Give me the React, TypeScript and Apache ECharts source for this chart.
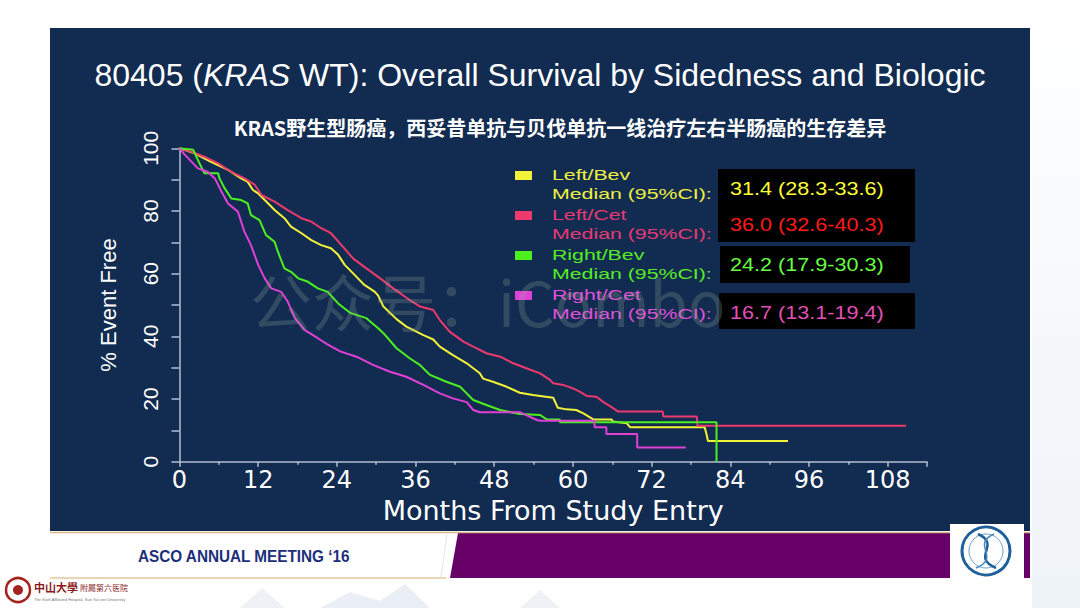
import React, { useEffect, useRef } from "react";
import * as echarts from "echarts";

// ---- Data (months, % event free) ----
const leftBev: [number, number][] = [
  [0, 100], [2.3, 98.4], [4.8, 95.7], [7.4, 93.1], [9.4, 90.4], [10.4, 89.3], [11.2, 86.7], [12.0, 85.6],
  [13.0, 83.5], [14.5, 80.3], [16.0, 77.7], [17.0, 75.0], [18.6, 72.9], [20.1, 70.7], [21.6, 69.1],
  [23.1, 68.1], [24.2, 66.0], [25.2, 62.8], [26.7, 59.6], [28.2, 56.4], [29.8, 54.2], [30.3, 53.0],
  [31.1, 49.5], [33.1, 45.5], [34.6, 43.1], [37.2, 40.4], [38.7, 39.0], [39.7, 36.7], [41.7, 34.0],
  [43.8, 31.4], [45.8, 28.2], [46.3, 26.5], [47.8, 25.5], [49.9, 23.9], [51.9, 22.0], [53.9, 21.3],
  [57.0, 20.4], [57.7, 17.2], [59.0, 16.7], [60.5, 16.5], [61.6, 15.4], [63.1, 13.5], [65.9, 13.5],
  [66.1, 12.8], [68.2, 12.3], [68.7, 11.0], [80.1, 11.0], [80.4, 8.5], [80.6, 6.6], [92.8, 6.6],
];
const leftCet: [number, number][] = [
  [0, 100], [1.8, 98.9], [3.8, 97.3], [5.9, 95.2], [7.9, 92.5], [9.9, 90.4], [11.5, 88.3], [12.5, 85.1],
  [14.5, 83.0], [16.5, 80.3], [18.6, 77.7], [20.1, 76.6], [21.6, 74.5], [23.1, 72.9], [24.7, 69.1],
  [26.5, 64.8], [28.5, 61.7], [30.6, 58.5], [32.6, 55.3], [35.1, 51.6], [36.7, 49.5], [38.7, 48.4],
  [39.7, 45.2], [41.2, 41.5], [43.3, 38.3], [44.8, 36.7], [46.8, 34.6], [48.9, 33.5], [50.9, 31.4],
  [52.9, 29.8], [55.0, 28.2], [56.5, 26.1], [57.0, 25.0], [58.5, 24.5], [60.0, 23.4], [61.1, 22.3],
  [62.1, 21.0], [63.6, 20.7], [64.6, 19.1], [65.6, 17.8], [66.9, 16.0], [73.7, 16.0], [73.8, 14.4],
  [78.9, 14.4], [79.0, 11.5], [110.8, 11.5],
];
const rightBev: [number, number][] = [
  [0, 100], [2.1, 99.5], [2.8, 96.3], [3.8, 92.0], [5.9, 92.0], [6.1, 90.4], [6.9, 87.2], [7.9, 84.0],
  [9.4, 83.5], [10.4, 82.4], [10.9, 78.7], [12.2, 77.1], [13.2, 72.3], [14.5, 70.2], [15.0, 67.0],
  [16.0, 61.7], [17.0, 60.6], [18.1, 58.5], [19.6, 57.4], [21.1, 55.3], [22.6, 54.2], [24.2, 50.5],
  [26.0, 47.5], [28.5, 45.8], [30.3, 42.6], [31.1, 41.0], [33.1, 36.2], [35.1, 33.0], [36.7, 30.8],
  [38.2, 27.7], [40.7, 25.5], [42.8, 23.9], [43.8, 21.8], [44.8, 19.7], [46.8, 18.1], [48.9, 16.5],
  [51.9, 15.2], [55.0, 14.9], [56.0, 13.5], [58.0, 13.5], [58.0, 12.6], [81.9, 12.6], [81.9, 0],
];
const rightCet: [number, number][] = [
  [0, 100], [0.8, 98.0], [2.8, 93.6], [4.3, 92.5], [5.4, 90.4], [6.4, 86.2], [7.4, 82.4], [8.9, 79.8],
  [9.9, 73.4], [10.9, 69.1], [12.0, 62.8], [13.0, 58.5], [14.0, 55.3], [15.5, 54.2], [16.5, 51.1],
  [17.6, 45.8], [19.1, 42.0], [21.1, 39.4], [22.5, 37.5], [24.5, 35.2], [27.0, 33.5], [29.5, 30.9],
  [32.1, 28.7], [34.6, 27.1], [37.2, 24.5], [39.7, 21.8], [41.7, 20.2], [43.8, 19.0], [44.8, 16.5],
  [45.8, 15.8], [51.9, 15.8], [54.5, 13.3], [55.0, 13.1], [63.3, 13.1], [63.3, 11.0], [65.1, 11.0],
  [65.1, 8.8], [69.8, 8.8], [69.8, 4.5], [77.2, 4.5],
];

const seriesNames = ["Left/Bev", "Left/Cet", "Right/Bev", "Right/Cet"];
const medianLabel = "Median (95%CI):";
const medianValues = ["31.4 (28.3-33.6)", "36.0 (32.6-40.3)", "24.2 (17.9-30.3)", "16.7 (13.1-19.4)"];

const subtitleText = "KRAS野生型肠癌，西妥昔单抗与贝伐单抗一线治疗左右半肠癌的生存差异";
const xAxisName = "Months From Study Entry";
const yAxisName = "% Event Free";
const footerText = "ASCO ANNUAL MEETING \u201816";
const watermarkText = "公众号：iCombo";

// ---- Styles ----
const lineColors = ["#f2f236", "#ec3a6e", "#4cf01e", "#e040d6"];
const legendTextColors = ["#f0f040", "#e83a72", "#55ee22", "#e050d8"];
const valueColors = ["#ffff33", "#ff1a1a", "#66ff44", "#e24fb5"];
const NAVY = "#122b51";
const AXIS = "#b4bfd0";

export default function App() {
  const ref = useRef<HTMLDivElement>(null);

  useEffect(() => {
    if (!ref.current) return;
    const chart = echarts.init(ref.current, undefined, { renderer: "svg" });
    const datasets = [leftBev, leftCet, rightBev, rightCet];

    const graphic: any[] = [
      // slide panel
      { type: "rect", z: -10, shape: { x: 50, y: 28, width: 980, height: 503 }, style: { fill: NAVY } },
      // faint scenery
      { type: "polygon", z: -12, shape: { points: [[240, 608], [262, 588], [285, 608]] }, style: { fill: "#eef2f7" } },
      { type: "polygon", z: -12, shape: { points: [[320, 608], [350, 592], [380, 601], [405, 584], [430, 608]] }, style: { fill: "#eaeff5" } },
      { type: "polygon", z: -12, shape: { points: [[520, 608], [540, 590], [560, 608]] }, style: { fill: "#eef2f7" } },
      { type: "rect", z: -12, shape: { x: 1032, y: 0, width: 48, height: 608 }, style: { fill: new echarts.graphic.LinearGradient(0, 0, 0, 1, [{ offset: 0, color: "#ffffff" }, { offset: 1, color: "#eef3f8" }]) } },
      // title
      {
        type: "text", x: 540, y: 75,
        style: {
          text: "{n|80405 (}{i|KRAS}{n| WT): Overall Survival by Sidedness and Biologic}",
          align: "center", verticalAlign: "middle",
          rich: {
            n: { fontFamily: "Liberation Sans", fontSize: 32, fill: "#ffffff" },
            i: { fontFamily: "Liberation Sans", fontSize: 32, fontStyle: "italic", fill: "#ffffff" },
          },
        },
      },
      {
        type: "text", x: 560, y: 127,
        style: { text: subtitleText, align: "center", verticalAlign: "middle", fontFamily: "Noto Sans CJK SC", fontWeight: "bold", fontSize: 20, fill: "#ffffff" },
      },
      // watermark
      {
        type: "text", x: 250, y: 300, z: 100,
        style: { text: watermarkText, align: "left", verticalAlign: "middle", fontFamily: "Noto Sans CJK SC", fontSize: 62, fill: "rgba(150,170,150,0.25)" },
      },
      // footer
      { type: "polygon", shape: { points: [[458, 533], [1030, 533], [1030, 578], [450, 578]] }, style: { fill: "#660066" } },
      { type: "line", shape: { x1: 50, y1: 532.5, x2: 1030, y2: 532.5 }, style: { stroke: "#d9b98a", lineWidth: 1.5 } },
      { type: "line", shape: { x1: 50, y1: 578, x2: 446, y2: 578 }, style: { stroke: "#e3c99e", lineWidth: 1.5 } },
      { type: "line", shape: { x1: 447, y1: 534, x2: 441, y2: 577 }, style: { stroke: "#e4e4e4", lineWidth: 1 } },
      {
        type: "text", x: 138, y: 556, scaleX: 0.9,
        style: { text: footerText, align: "left", verticalAlign: "middle", fontFamily: "Liberation Sans", fontWeight: "bold", fontSize: 17, fill: "#1c2f7a" },
      },
      { type: "rect", shape: { x: 950, y: 524, width: 74, height: 55 }, style: { fill: "#ffffff" } },
      { type: "circle", shape: { cx: 986, cy: 551, r: 24 }, style: { fill: "#ffffff", stroke: "#1f5f9a", lineWidth: 3 } },
      { type: "circle", shape: { cx: 986, cy: 551, r: 17 }, style: { fill: "#ffffff", stroke: "#6f9cc6", lineWidth: 1 } },
      { type: "bezierCurve", shape: { x1: 978, y1: 534, x2: 996, y2: 568, cpx1: 1002, cpy1: 545, cpx2: 970, cpy2: 557 }, style: { stroke: "#1f5f9a", lineWidth: 2.5, fill: "none" } },
      { type: "bezierCurve", shape: { x1: 994, y1: 534, x2: 976, y2: 568, cpx1: 970, cpy1: 545, cpx2: 1002, cpy2: 557 }, style: { stroke: "#4a86bd", lineWidth: 1.5, fill: "none" } },
      // bottom-left hospital logo
      { type: "circle", shape: { cx: 18, cy: 590, r: 12 }, style: { fill: "#ffffff", stroke: "#a3241f", lineWidth: 2.5 } },
      { type: "circle", shape: { cx: 18, cy: 590, r: 5 }, style: { fill: "#a3241f" } },
      { type: "text", x: 34, y: 587, style: { text: "中山大學", verticalAlign: "middle", fontFamily: "Noto Sans CJK TC", fontWeight: "bold", fontSize: 11, fill: "#8a1a1a" } },
      { type: "text", x: 80, y: 587, style: { text: "附屬第六医院", verticalAlign: "middle", fontFamily: "Noto Sans CJK TC", fontSize: 8, fill: "#8a1a1a" } },
      { type: "text", x: 34, y: 599, style: { text: "The Sixth Affiliated Hospital, Sun Yat-sen University", verticalAlign: "middle", fontFamily: "Liberation Sans", fontSize: 4, fill: "#777777" } },
    ];

    // legend and median boxes
    const boxes = [
      { x: 718, y: 169, w: 197, h: 73 },
      { x: 720, y: 246, w: 190, h: 37 },
      { x: 719, y: 293, w: 196, h: 36 },
    ];
    boxes.forEach((b) => graphic.push({ type: "rect", shape: { x: b.x, y: b.y, width: b.w, height: b.h }, style: { fill: "#000000" } }));
    const valueY = [189, 225, 265, 313];
    seriesNames.forEach((name, i) => {
      const y0 = 175 + 40 * i;
      graphic.push({ type: "rect", shape: { x: 515, y: y0 - 4, width: 17, height: 9 }, style: { fill: lineColors[i] } });
      graphic.push({ type: "text", x: 552, y: y0, scaleX: 1.42, style: { text: name, verticalAlign: "middle", fontFamily: "Liberation Sans", fontSize: 15, fill: legendTextColors[i] } });
      graphic.push({ type: "text", x: 552, y: y0 + 19, scaleX: 1.42, style: { text: medianLabel, verticalAlign: "middle", fontFamily: "Liberation Sans", fontSize: 15, fill: legendTextColors[i] } });
      graphic.push({ type: "text", x: 730, y: valueY[i], scaleX: 1.2, style: { text: medianValues[i], verticalAlign: "middle", fontFamily: "Liberation Sans", fontSize: 18, fill: valueColors[i] } });
    });

    chart.setOption({
      animation: false,
      backgroundColor: "#ffffff",
      grid: { left: 179.5, right: 153, top: 148.3, bottom: 146.3 },
      xAxis: {
        type: "value", min: 0, max: 114, interval: 12,
        name: xAxisName, nameLocation: "middle", nameGap: 33,
        nameTextStyle: { color: "#ffffff", fontFamily: "DejaVu Sans", fontSize: 27 },
        axisLine: { lineStyle: { color: AXIS, width: 1.5 } },
        axisTick: { length: 5, lineStyle: { color: AXIS, width: 1.5 } },
        minorTick: { show: true, splitNumber: 2, length: 3, lineStyle: { color: AXIS, width: 1.5 } },
        splitLine: { show: false },
        axisLabel: { color: "#ffffff", fontFamily: "DejaVu Sans", fontSize: 24, margin: 6, formatter: (v: number) => (v % 12 === 0 ? String(v) : "") },
      },
      yAxis: {
        type: "value", min: 0, max: 100, interval: 10,
        name: yAxisName, nameLocation: "middle", nameGap: 60,
        nameTextStyle: { color: "#ffffff", fontFamily: "Liberation Sans", fontSize: 22 },
        axisLine: { show: true, lineStyle: { color: AXIS, width: 1.5 } },
        axisTick: { show: true, length: 8, lineStyle: { color: AXIS, width: 1.5 } },
        splitLine: { show: false },
        axisLabel: { color: "#ffffff", fontFamily: "Liberation Sans", fontSize: 21, rotate: 90, margin: 19, formatter: (v: number) => (v % 20 === 0 ? String(v) : "") },
      },
      series: datasets.map((d, i) => ({
        name: seriesNames[i], type: "line", data: d, showSymbol: false, symbol: "none",
        lineStyle: { color: lineColors[i], width: 2 }, itemStyle: { color: lineColors[i] },
      })),
      graphic,
    });
    return () => chart.dispose();
  }, []);

  return <div ref={ref} style={{ position: "absolute", left: 0, top: 0, width: 1080, height: 608 }} />;
}
